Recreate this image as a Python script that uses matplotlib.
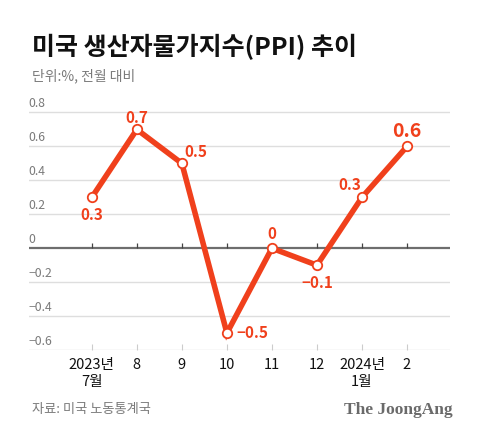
import matplotlib.pyplot as plt

plt.rcParams['font.family'] = ['Noto Sans CJK KR', 'DejaVu Sans']

# data
months = ['2023년\n7월', '8', '9', '10', '11', '12', '2024년\n1월', '2']
ppi = [0.3, 0.7, 0.5, -0.5, 0.0, -0.1, 0.3, 0.6]
point_labels = ['0.3', '0.7', '0.5', '−0.5', '0', '−0.1', '0.3', '0.6']
grid_vals = [0.8, 0.6, 0.4, 0.2, 0, -0.2, -0.4, -0.6]
grid_text = ['0.8', '0.6', '0.4', '0.2', '0', '−0.2', '−0.4', '−0.6']

RED = '#f0401c'
GRAY = '#7a7a7a'

fig = plt.figure(figsize=(4.8, 4.37), dpi=100)
ax = fig.add_axes([0.06, 0.199, 0.877, 0.563])

x = list(range(len(ppi)))
ax.set_xlim(-1.4, 7.95)
ax.set_ylim(-0.6, 0.85)

for v, t in zip(grid_vals, grid_text):
    if v == 0:
        ax.axhline(v, color='#6e6e6e', lw=1.6, zorder=1)
    else:
        ax.axhline(v, color='#dedede', lw=1.0, zorder=1)
    ax.text(0.0, v + 0.012, t, transform=ax.get_yaxis_transform(),
            ha='left', va='bottom', fontsize=8.8, color=GRAY)

# small ticks on the zero line
ax.vlines(x, 0, 0.03, color='#444444', lw=0.9, zorder=2)

ax.plot(x, ppi, color=RED, lw=4.0, zorder=3, solid_joinstyle='miter')
ax.plot(x, ppi, 'o', ms=6.8, mfc='white', mec=RED, mew=1.3, zorder=4)

# value labels (offsets in points)
offsets = [(0, -13), (0, 8), (10, 8), (18, 0), (0, 10), (0, -13), (-9, 9), (0, 11)]
for xi, yi, lab, (dx, dy) in zip(x, ppi, point_labels, offsets):
    big = (xi == len(ppi) - 1)
    ax.annotate(lab, (xi, yi), xytext=(dx, dy), textcoords='offset points',
                ha='center', va='center', color=RED,
                fontsize=14 if big else 11,
                fontweight='bold', zorder=5)

ax.set_xticks(x)
ax.set_xticklabels(months, fontsize=10.5, color='#111111', linespacing=1.25)
ax.tick_params(axis='x', direction='in', length=4, color='#cccccc', pad=6)
ax.set_yticks([])
for s in ax.spines.values():
    s.set_visible(False)

fig.text(0.066, 0.893, '미국 생산자물가지수(PPI) 추이', fontsize=18,
         fontweight='heavy', color='#111111', va='center', ha='left')
fig.text(0.066, 0.826, '단위:%, 전월 대비', fontsize=10, color=GRAY,
         va='center', ha='left')
fig.text(0.066, 0.062, '자료: 미국 노동통계국', fontsize=9.5, color=GRAY,
         va='center', ha='left')
fig.text(0.942, 0.062, 'The JoongAng', fontsize=12.5, color='#6a6a6a',
         fontweight='bold', family=['Liberation Serif'], va='center', ha='right')

fig.savefig('out.png', dpi=100, facecolor='white')
